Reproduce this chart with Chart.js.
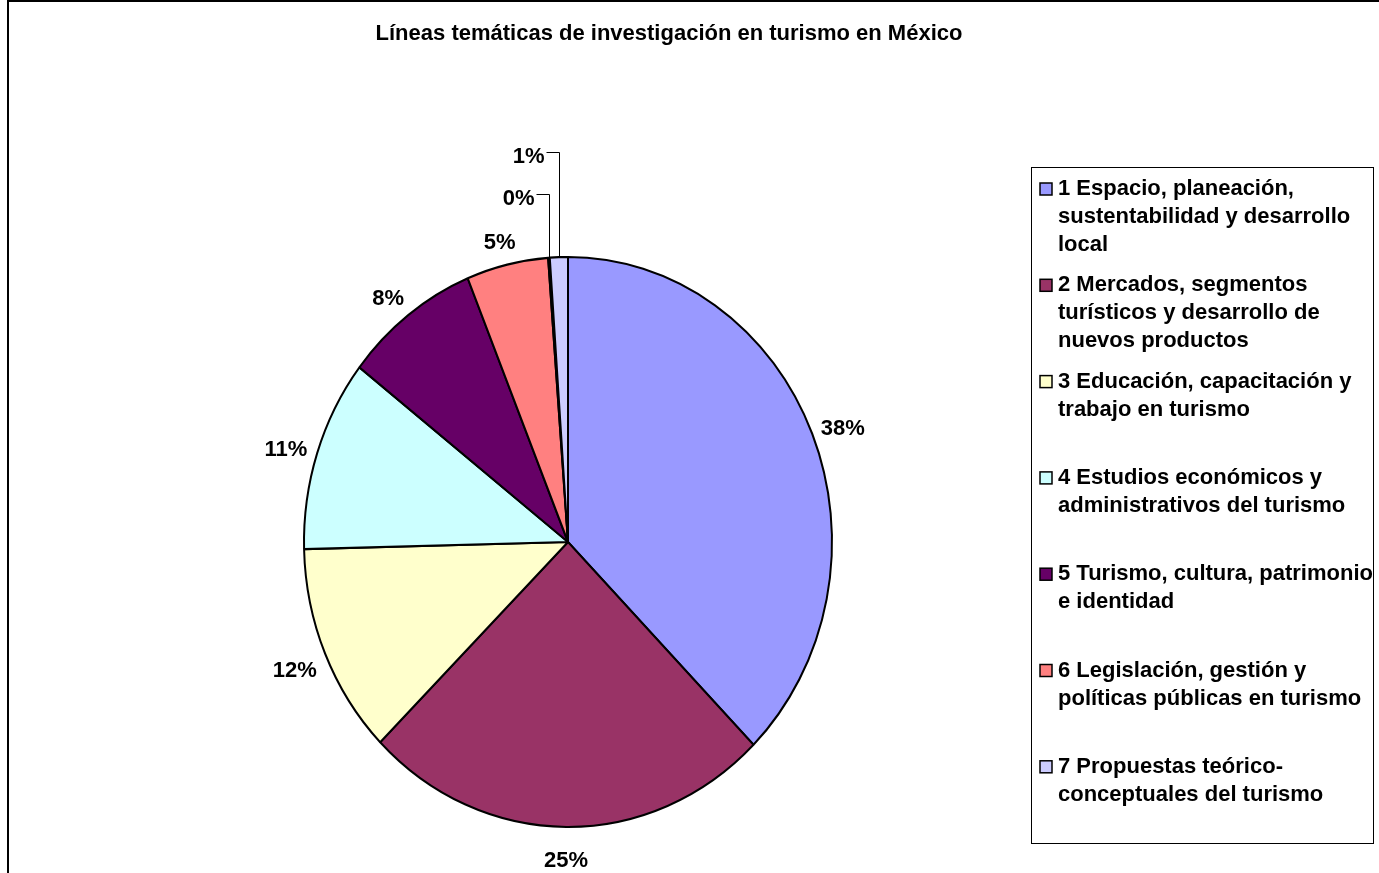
<!DOCTYPE html>
<html>
<head>
<meta charset="utf-8">
<script src="https://cdn.jsdelivr.net/npm/chart.js@4.4.1/dist/chart.umd.min.js"></script>
<style>
    html, body { margin: 0; padding: 0; background: #fff; }
    canvas { display: block; }
</style>
</head>
<body>
<canvas id="pieChart" width="1379" height="873"></canvas>
<script>
// Chart data
const chartTitle = 'Líneas temáticas de investigación en turismo en México';
const categories = [
    ['1 Espacio, planeación,', 'sustentabilidad y desarrollo', 'local'],
    ['2 Mercados, segmentos', 'turísticos y desarrollo de', 'nuevos productos'],
    ['3 Educación, capacitación y', 'trabajo en turismo'],
    ['4 Estudios económicos y', 'administrativos del turismo'],
    ['5 Turismo, cultura, patrimonio', 'e identidad'],
    ['6 Legislación, gestión y', 'políticas públicas en turismo'],
    '',
    ['7 Propuestas teórico-', 'conceptuales del turismo']
];
const shares = [37.6, 25.0, 12.0, 10.9, 8.3, 5.0, 0.1, 1.1];
const sliceColors = ['#9999FF', '#993366', '#FFFFCC', '#CCFFFF', '#660066', '#FF8080', '#0066CC', '#CCCCFF'];

const boldFont = '700 22px "Liberation Sans", Arial, sans-serif';
const yStretch = 285 / 264;             // the original pie is a bit taller than wide
const raisedLabels = { 6: 58, 7: 100 }; // tiny slices: label lifted above the pie with a leader

// White background, chart frame (top and left edges) and the title
const chartFrame = {
    id: 'chartFrame',
    beforeDraw(chart) {
        const ctx = chart.ctx;
        ctx.save();
        ctx.fillStyle = '#fff';
        ctx.fillRect(0, 0, chart.width, chart.height);
        ctx.fillStyle = '#000';
        ctx.fillRect(7, 0, 2, chart.height);
        ctx.fillRect(7, 0, chart.width, 2);
        ctx.font = boldFont;
        ctx.textAlign = 'center';
        ctx.textBaseline = 'middle';
        ctx.fillText(chartTitle, 669, 34);
        ctx.restore();
    }
};

// Stretch the pie vertically and draw the percent labels
const pieLabels = {
    id: 'pieLabels',
    beforeDatasetsDraw(chart) {
        const arc = chart.getDatasetMeta(0).data[0];
        const ctx = chart.ctx;
        ctx.save();
        ctx.translate(arc.x, arc.y);
        ctx.scale(1, yStretch);
        ctx.translate(-arc.x, -arc.y);
    },
    afterDatasetsDraw(chart) {
        const ctx = chart.ctx;
        ctx.restore();
        const meta = chart.getDatasetMeta(0);
        const total = shares.reduce((a, b) => a + b, 0);
        ctx.save();
        ctx.font = boldFont;
        ctx.fillStyle = '#000';
        ctx.strokeStyle = '#000';
        ctx.lineWidth = 1;
        ctx.textBaseline = 'middle';
        meta.data.forEach((arc, i) => {
            const { x, y, startAngle, endAngle, outerRadius } =
                arc.getProps(['x', 'y', 'startAngle', 'endAngle', 'outerRadius'], true);
            const mid = (startAngle + endAngle) / 2;
            const rx = outerRadius;
            const ry = outerRadius * yStretch;
            const text = Math.round(shares[i] / total * 100) + '%';
            if (raisedLabels[i] !== undefined) {
                const ex = Math.round(x + rx * Math.cos(mid)) + 0.5;
                const ey = y + ry * Math.sin(mid);
                const ty = y - ry - raisedLabels[i];
                const tx = ex - 15;
                const ly = Math.round(ty - 5) + 0.5;
                ctx.textAlign = 'right';
                ctx.fillText(text, tx, ty);
                ctx.beginPath();
                ctx.moveTo(tx + 2, ly);
                ctx.lineTo(ex, ly);
                ctx.lineTo(ex, ey);
                ctx.stroke();
            } else {
                ctx.textAlign = 'center';
                ctx.fillText(text,
                    x + (rx + 33) * Math.cos(mid),
                    y + (ry + 28) * Math.sin(mid) + 6);
            }
        });
        ctx.restore();
    }
};

// Boxed legend on the right, like the original
const boxedLegend = {
    id: 'boxedLegend',
    afterDraw(chart) {
        const ctx = chart.ctx;
        const colors = chart.data.datasets[0].backgroundColor;
        ctx.save();
        ctx.strokeStyle = '#000';
        ctx.lineWidth = 1;
        ctx.strokeRect(1031.5, 167.5, 342, 676);
        ctx.font = boldFont;
        ctx.textBaseline = 'middle';
        ctx.textAlign = 'left';
        let row = 0;
        chart.data.labels.forEach((lines, i) => {
            if (!lines || !lines.length) return;
            const top = 189 + row * 96.3;
            ctx.fillStyle = colors[i];
            ctx.fillRect(1040, top - 6, 12, 12);
            ctx.lineWidth = 1.5;
            ctx.strokeRect(1040, top - 6, 12, 12);
            ctx.fillStyle = '#000';
            lines.forEach((line, j) => ctx.fillText(line, 1058, top + j * 28));
            row++;
        });
        ctx.restore();
    }
};

function initPieChart() {
    const ctx = document.getElementById('pieChart');
    if (ctx) {
        new Chart(ctx.getContext('2d'), {
            type: 'pie',
            data: {
                labels: categories,
                datasets: [{
                    data: shares,
                    backgroundColor: sliceColors,
                    borderColor: '#000',
                    borderWidth: 2,
                    radius: 264,
                    clip: false
                }]
            },
            options: {
                responsive: false,
                animation: false,
                layout: {
                    // puts the pie centre at (568, 542)
                    padding: { left: 378, right: 621, top: 247, bottom: 36 }
                },
                plugins: {
                    legend: { display: false },
                    tooltip: { enabled: false },
                    title: { display: false }
                }
            },
            plugins: [chartFrame, pieLabels, boxedLegend]
        });
    }
}

document.addEventListener('DOMContentLoaded', () => {
    initPieChart();
});
</script>
</body>
</html>
